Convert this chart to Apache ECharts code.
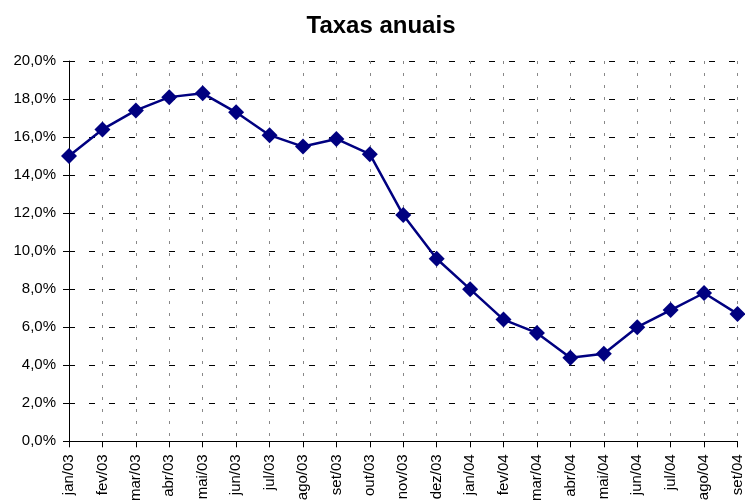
<!DOCTYPE html>
<html>
<head>
<meta charset="utf-8">
<script src="https://cdn.jsdelivr.net/npm/echarts@6/dist/echarts.min.js"></script>
<style>
  html, body { margin: 0; padding: 0; background: #fff; }
  #chart { width: 745px; height: 504px; }
</style>
</head>
<body>
<div id="chart"></div>
<script>
// meses
const months = [
  "jan/03", "fev/03", "mar/03", "abr/03", "mai/03", "jun/03", "jul/03",
  "ago/03", "set/03", "out/03", "nov/03", "dez/03", "jan/04", "fev/04",
  "mar/04", "abr/04", "mai/04", "jun/04", "jul/04", "ago/04", "set/04"
];
// taxas anuais em %
const taxas = [
  15.0, 16.4, 17.4, 18.1, 18.3, 17.3, 16.1,
  15.5, 15.9, 15.1, 11.9, 9.6, 8.0, 6.4,
  5.7, 4.4, 4.6, 6.0, 6.9, 7.8, 6.7
];

const chart = echarts.init(document.getElementById("chart"));
const option = {
  backgroundColor: "#fff",
  animation: false,
  title: {
    text: "Taxas anuais",
    left: 376,
    top: 9,
    textAlign: "center",
    textStyle: {
      fontFamily: "Liberation Sans, Arial",
      fontSize: 24,
      fontWeight: "bold",
      color: "#000"
    }
  },
  grid: { left: 69, right: 3, top: 61, bottom: 58 },
  xAxis: {
    type: "category",
    data: months,
    boundaryGap: false,
    axisLine: { lineStyle: { color: "#000", width: 1 } },
    axisTick: { show: true, length: 6, lineStyle: { color: "#000" } },
    axisLabel: {
      rotate: 90,
      interval: 0,
      margin: 13,
      fontFamily: "Liberation Sans, Arial",
      fontSize: 15,
      color: "#000"
    },
    splitLine: {
      show: true,
      lineStyle: { color: "#888", type: [3, 9], width: 1 }
    }
  },
  yAxis: {
    type: "value",
    min: 0,
    max: 20,
    interval: 2,
    axisLine: { show: true, lineStyle: { color: "#000", width: 1 } },
    axisTick: { show: true, length: 6, lineStyle: { color: "#000" } },
    axisLabel: {
      margin: 13,
      fontFamily: "Liberation Sans, Arial",
      fontSize: 15,
      color: "#000",
      formatter: (v) => v.toFixed(1).replace(".", ",") + "%"
    },
    splitLine: {
      show: true,
      lineStyle: { color: "#000", type: [6, 14], width: 1 }
    }
  },
  series: [
    {
      name: "Taxas anuais",
      type: "line",
      data: taxas,
      symbol: "diamond",
      symbolSize: 16,
      itemStyle: { color: "#000080" },
      lineStyle: { color: "#000080", width: 2.5 }
    }
  ]
};
chart.setOption(option);
</script>
</body>
</html>
